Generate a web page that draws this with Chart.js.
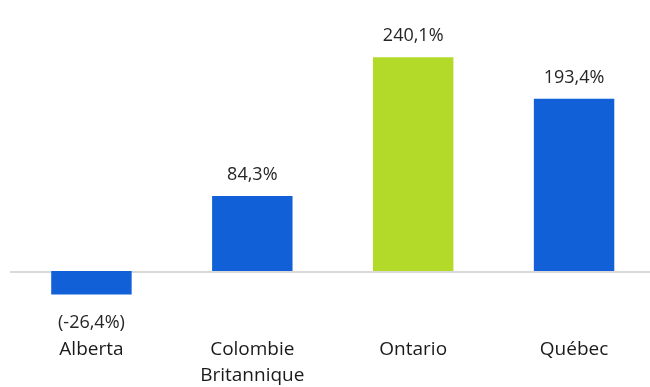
<!DOCTYPE html>
<html>
<head>
<meta charset="utf-8">
<script src="https://cdn.jsdelivr.net/npm/chart.js@4/dist/chart.umd.min.js"></script>
<style>
  html, body { margin: 0; padding: 0; background: #ffffff; overflow: hidden; }
  #wrap { width: 656px; height: 387px; position: relative; }
</style>
</head>
<body>
<div id="wrap"><canvas id="c" width="656" height="387"></canvas></div>
<script>
const categories = [["Alberta"], ["Colombie", "Britannique"], ["Ontario"], ["Québec"]];
const values = [-26.4, 84.3, 240.1, 193.4];
const dataLabels = ["(-26,4%)", "84,3%", "240,1%", "193,4%"];
const barColors = ["#1160D7", "#1160D7", "#B4DA29", "#1160D7"];

const FONT = "'Open Sans', 'Noto Sans', sans-serif";

const zeroLine = {
  id: 'zeroLine',
  beforeDatasetsDraw(chart) {
    const ctx = chart.ctx;
    const y = chart.scales.y.getPixelForValue(0);
    ctx.save();
    ctx.strokeStyle = '#d9d9d9';
    ctx.lineWidth = 2;
    ctx.beginPath();
    ctx.moveTo(10, y + 1);
    ctx.lineTo(chart.width, y + 1);
    ctx.stroke();
    ctx.restore();
  }
};

const valueLabels = {
  id: 'valueLabels',
  afterDatasetsDraw(chart) {
    const ctx = chart.ctx;
    const meta = chart.getDatasetMeta(0);
    ctx.save();
    ctx.font = "18px " + FONT;
    ctx.fillStyle = '#262626';
    ctx.textAlign = 'center';
    ctx.textBaseline = 'alphabetic';
    meta.data.forEach((bar, i) => {
      const v = values[i];
      let y;
      if (v >= 0) y = bar.y - 16;
      else y = bar.y + 34;
      ctx.fillText(dataLabels[i], bar.x, y);
    });
    ctx.restore();
  }
};

new Chart(document.getElementById('c'), {
  type: 'bar',
  data: {
    labels: categories,
    datasets: [{
      data: values,
      backgroundColor: barColors,
      borderWidth: 0,
      categoryPercentage: 1.0,
      barPercentage: 0.5
    }]
  },
  options: {
    responsive: false,
    animation: false,
    devicePixelRatio: 1,
    layout: { padding: { left: 11, right: 1.5, top: 20, bottom: 0 } },
    plugins: { legend: { display: false }, tooltip: { enabled: false } },
    scales: {
      x: {
        grid: { display: false, drawTicks: false },
        border: { display: false },
        ticks: {
          color: '#1a1a1a',
          font: { family: FONT, size: 19, lineHeight: 1.37 },
          padding: 2,
          maxRotation: 0,
          autoSkip: false
        },
        afterFit(scale) { scale.height = 52; }
      },
      y: {
        display: false,
        min: -72,
        max: 282
      }
    }
  },
  plugins: [zeroLine, valueLabels]
});
</script>
</body>
</html>
